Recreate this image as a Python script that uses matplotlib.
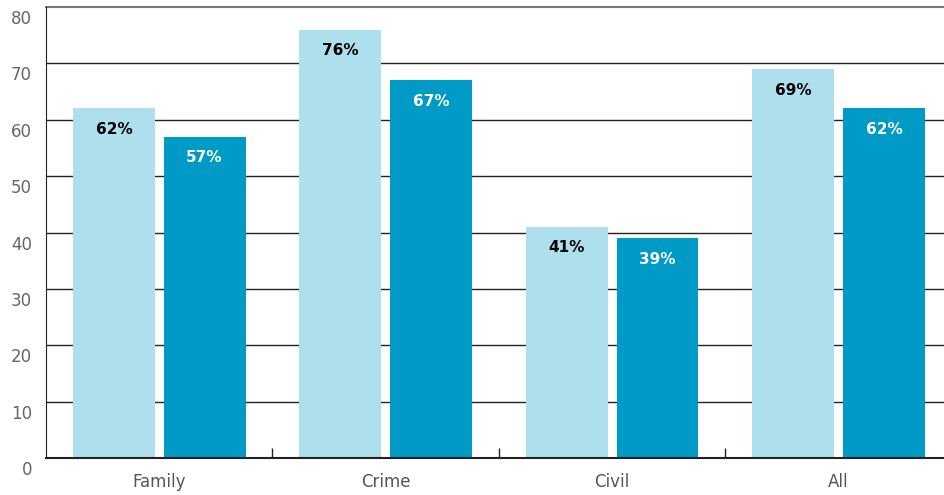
import numpy as np
import matplotlib
matplotlib.use("Agg")
import matplotlib.pyplot as plt
import matplotlib.transforms as mtransforms

categories = ["Family", "Crime", "Civil", "All"]
series_a = [62, 76, 41, 69]
series_b = [57, 67, 39, 62]
yticks = [0, 10, 20, 30, 40, 50, 60, 70, 80]

light = "#addfec"
dark = "#009ac7"

plt.rcParams['font.family'] = ['DejaVu Sans']

fig = plt.figure(figsize=(9.44, 4.95), dpi=100)
ax = fig.add_axes([46/944, 37/495, 898/944, 451/495])

x = np.arange(len(categories))
w = 0.362
off = 0.2
ba = ax.bar(x - off, series_a, w, color=light, zorder=3)
bb = ax.bar(x + off, series_b, w, color=dark, zorder=3)

# value labels just inside the bar tops
for rect, v in zip(ba, series_a):
    ax.annotate(f"{v}%", (rect.get_x() + rect.get_width()/2, v), xytext=(0, -21),
                textcoords="offset pixels", ha="center", va="center",
                fontsize=11, fontweight="bold", color="black", zorder=4)
for rect, v in zip(bb, series_b):
    ax.annotate(f"{v}%", (rect.get_x() + rect.get_width()/2, v), xytext=(0, -21),
                textcoords="offset pixels", ha="center", va="center",
                fontsize=11, fontweight="bold", color="white", zorder=4)

ax.set_xlim(-0.5, 3.465)
ax.set_ylim(0, 80)
ax.set_yticks(yticks)
ax.set_yticklabels([str(t) for t in yticks], fontsize=12, color="#666666")
ax.set_xticks(x)
ax.set_xticklabels(categories, fontsize=12, color="#555555")
ax.set_xticks([0.5, 1.5, 2.5], minor=True)
ax.tick_params(axis="x", which="major", length=0, pad=11)
ax.tick_params(axis="x", which="minor", direction="in", length=7.5, width=1, color="#222222")
ax.tick_params(axis="y", length=0, pad=10)

# y labels sit a little below their gridlines
shift = mtransforms.ScaledTranslation(0, -10/100, fig.dpi_scale_trans)
for lab in ax.get_yticklabels():
    lab.set_transform(lab.get_transform() + shift)

for t in yticks[1:-1]:
    ax.axhline(t, color="#222222", linewidth=1, zorder=1)
ax.axhline(80, color="#777777", linewidth=1.5, zorder=1, clip_on=False)

for s in ["top", "right"]:
    ax.spines[s].set_visible(False)
ax.spines["left"].set_color("#222222")
ax.spines["bottom"].set_color("#222222")
ax.spines["bottom"].set_linewidth(1.5)
ax.spines["bottom"].set_zorder(5)

fig.savefig("out.png", dpi=100)
